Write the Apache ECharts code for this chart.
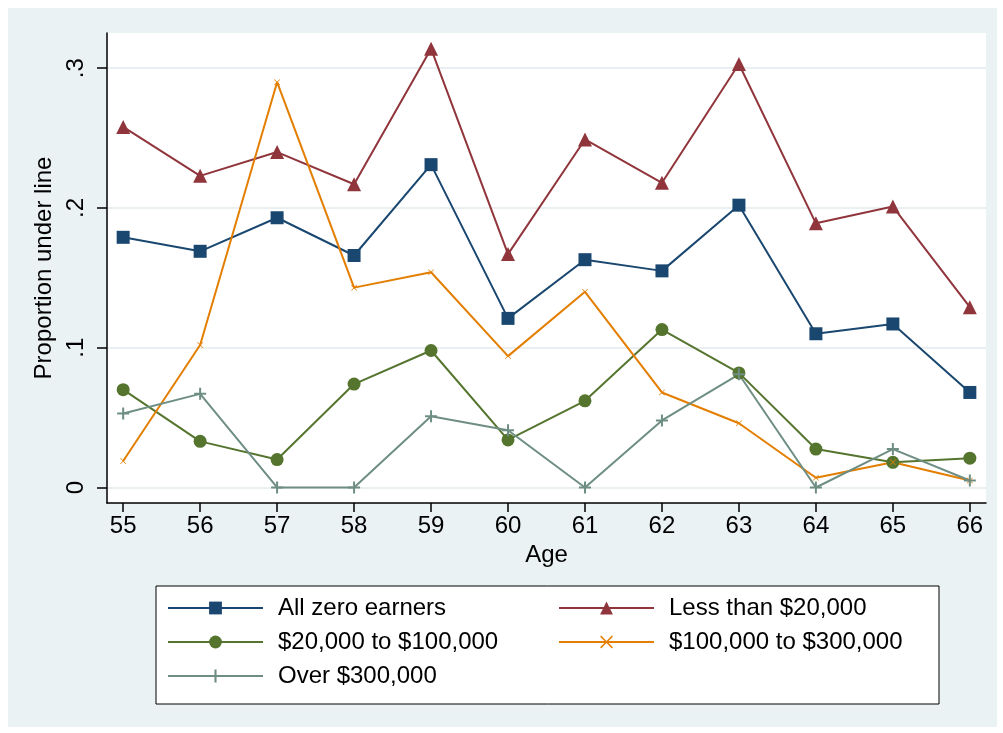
<!DOCTYPE html>
<html>
<head>
<meta charset="utf-8">
<script src="https://cdn.jsdelivr.net/npm/echarts@6/dist/echarts.min.js"></script>
<style>
  body { margin: 0; background: #fff; }
  #chart { position: absolute; left: 8px; top: 8px; width: 989px; height: 719px; }
</style>
</head>
<body>
<div id="chart"></div>
<script>
  // 数据
  var ages = [55, 56, 57, 58, 59, 60, 61, 62, 63, 64, 65, 66]
  var yTicks = [0, 0.1, 0.2, 0.3]
  var allZero = [0.179, 0.169, 0.193, 0.166, 0.231, 0.121, 0.163, 0.155, 0.202, 0.110, 0.117, 0.068]
  var lessThan20k = [0.258, 0.223, 0.240, 0.217, 0.314, 0.167, 0.249, 0.218, 0.303, 0.189, 0.201, 0.129]
  var from20kTo100k = [0.070, 0.033, 0.020, 0.074, 0.098, 0.034, 0.062, 0.113, 0.082, 0.0275, 0.018, 0.021]
  var from100kTo300k = [0.019, 0.102, 0.290, 0.143, 0.154, 0.094, 0.140, 0.068, 0.046, 0.007, 0.018, 0.005]
  var over300k = [0.053, 0.067, 0, 0, 0.051, 0.041, 0, 0.048, 0.081, 0, 0.0275, 0.005]

  var plusPath = 'path://M5,0h2v5h5v2h-5v5h-2v-5h-5v-2h5z'
  var crossPath = 'path://M0,1L1,0L6,5L11,0L12,1L7,6L12,11L11,12L6,7L1,12L0,11L5,6Z'

  function pairs(vals) {
    return ages.map(function(a, i) { return [a, vals[i]] })
  }

  function makeSeries(name, vals, color, symbol, size) {
    return {
      name: name,
      type: 'line',
      data: pairs(vals),
      symbol: symbol,
      symbolSize: size,
      showAllSymbol: true,
      lineStyle: { color: color, width: 2 },
      itemStyle: { color: color },
      emphasis: { disabled: true }
    }
  }

  var font = 'Liberation Sans, Arial, sans-serif'
  var myChart = echarts.init(document.getElementById('chart'))
  var option = {
    backgroundColor: '#EAF2F3',
    animation: false,
    textStyle: { fontFamily: font, color: '#000' },
    grid: {
      left: 99,
      top: 25,
      right: 11,
      bottom: 224,
      show: true,
      backgroundColor: '#fff',
      borderWidth: 0
    },
    xAxis: {
      type: 'value',
      min: 54.79,
      max: 66.21,
      name: 'Age',
      nameLocation: 'middle',
      nameGap: 39,
      nameTextStyle: { fontSize: 24, color: '#000', fontFamily: font },
      axisLine: { show: true, onZero: false, lineStyle: { color: '#000', width: 1.5 } },
      axisTick: { show: true, length: 9, customValues: ages, lineStyle: { color: '#000', width: 1.5 } },
      axisLabel: {
        customValues: ages,
        fontSize: 24,
        color: '#000',
        margin: 11,
        fontFamily: font,
        formatter: function(v) { return String(Math.round(v)) }
      },
      splitLine: { show: false }
    },
    yAxis: {
      type: 'value',
      min: -0.0111,
      max: 0.3252,
      name: 'Proportion under line',
      nameLocation: 'middle',
      nameGap: 49,
      nameTextStyle: { fontSize: 24, color: '#000', fontFamily: font },
      axisLine: { show: true, onZero: false, lineStyle: { color: '#000', width: 1.5 } },
      axisTick: { show: true, length: 10, customValues: yTicks, lineStyle: { color: '#000', width: 1.5 } },
      axisLabel: {
        customValues: yTicks,
        rotate: 90,
        fontSize: 24,
        color: '#000',
        margin: 19,
        fontFamily: font,
        formatter: function(v) { return v === 0 ? '0' : String(Math.round(v * 10) / 10).replace('0.', '.') }
      },
      splitLine: { show: true, lineStyle: { color: '#EAF0F2', width: 2 } }
    },
    legend: {
      left: 148,
      top: 578,
      width: 775,
      orient: 'horizontal',
      backgroundColor: '#fff',
      borderColor: '#000',
      borderWidth: 1,
      padding: [10, 0, 16, 11],
      itemWidth: 95,
      itemHeight: 16,
      itemGap: 10,
      selectedMode: false,
      textStyle: {
        fontSize: 24,
        color: '#000',
        fontFamily: font,
        width: 270,
        lineHeight: 24,
        overflow: 'truncate',
        padding: [0, 0, 0, 10]
      },
      data: ['All zero earners', 'Less than $20,000', '$20,000 to $100,000', '$100,000 to $300,000', 'Over $300,000']
    },
    series: [
      makeSeries('All zero earners', allZero, '#1A476F', 'rect', 13),
      makeSeries('Less than $20,000', lessThan20k, '#90353B', 'triangle', 14),
      makeSeries('$20,000 to $100,000', from20kTo100k, '#55752F', 'circle', 13),
      makeSeries('$100,000 to $300,000', from100kTo300k, '#E37E00', crossPath, 6),
      makeSeries('Over $300,000', over300k, '#6E8E84', plusPath, 12)
    ]
  }
  myChart.setOption(option)
</script>
</body>
</html>
